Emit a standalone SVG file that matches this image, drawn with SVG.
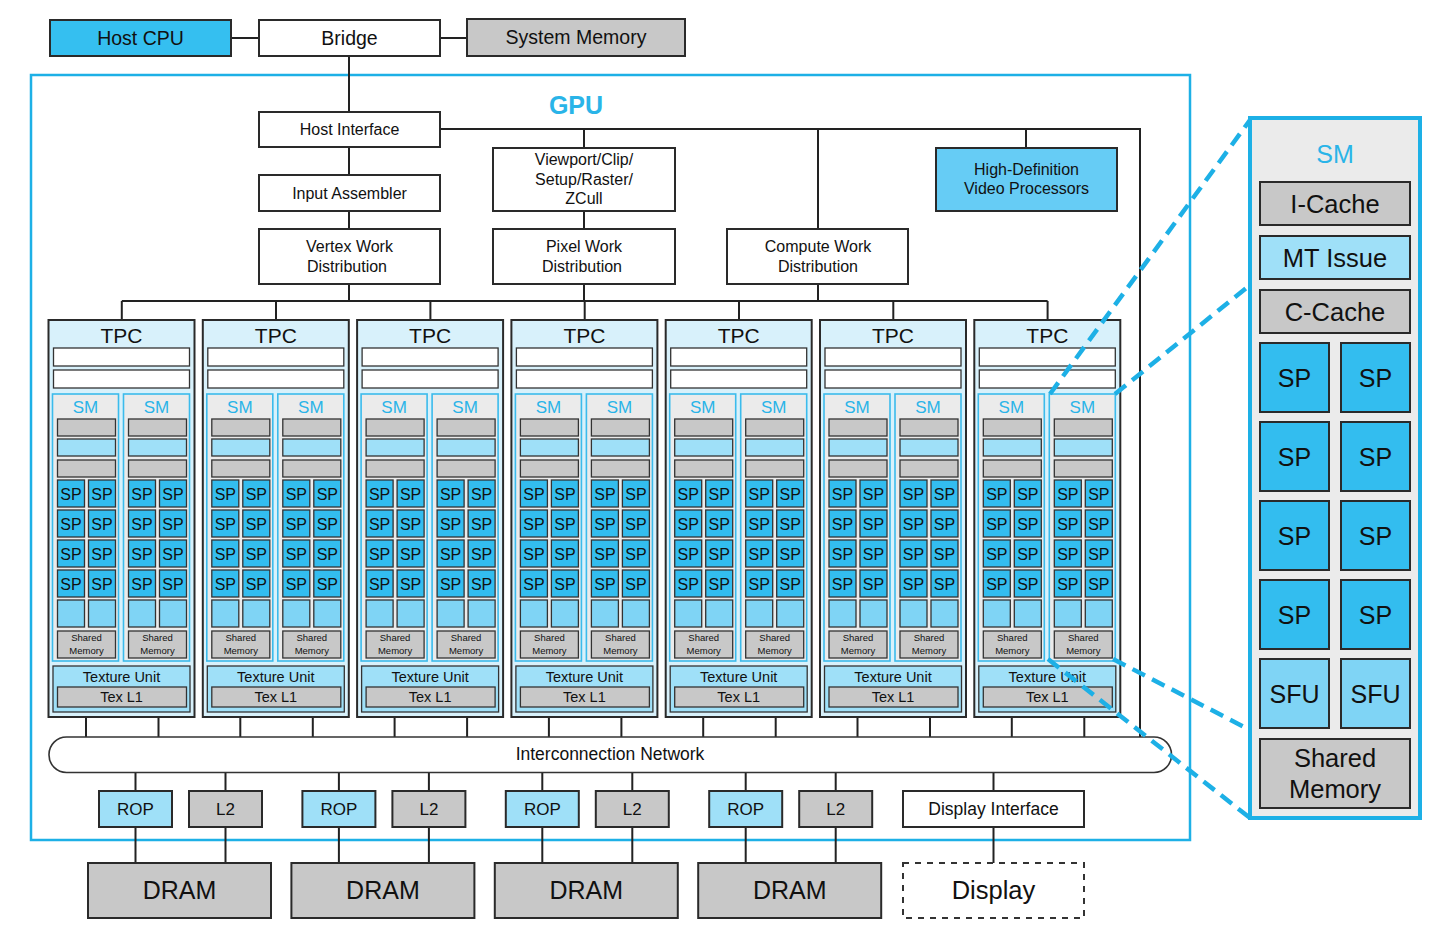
<svg xmlns="http://www.w3.org/2000/svg" xmlns:xlink="http://www.w3.org/1999/xlink" width="1449" height="937" viewBox="0 0 1449 937">
<style>
text{font-family:"Liberation Sans",Arial,sans-serif;fill:#111;text-anchor:middle}
.bx{stroke:#2a2a2a;stroke-width:2}
.in{stroke:#333;stroke-width:1.3}
.w{fill:#fff}
.g{fill:#c8c8c8}
.lb{fill:#9fe0f8}
.bl{fill:#7fd4f5}
.sp{fill:#33bdef}
.cy{fill:#35bff0}
.hd{fill:#66ccf5}
.ln{stroke:#222;stroke-width:2;fill:none}
.dash{stroke:#1db0e6;stroke-width:4.5;stroke-dasharray:14 8;fill:none}
.cytx{fill:#2ab4e8}
</style>
<defs>
<g id="smT">
<rect x="0" y="0" width="66" height="267" fill="#ebebeb" stroke="#3bbbec" stroke-width="1.6"/>
<text x="33" y="19" font-size="17" class="cytx">SM</text>
<rect class="g in" x="5" y="25" width="58" height="17"/>
<rect class="lb in" x="5" y="45" width="58" height="17"/>
<rect class="g in" x="5" y="66" width="58" height="17"/>
<g font-size="16">
<rect class="sp in" x="5" y="86" width="27" height="27"/><text x="18.5" y="105.5">SP</text>
<rect class="sp in" x="36" y="86" width="27" height="27"/><text x="49.5" y="105.5">SP</text>
<rect class="sp in" x="5" y="116" width="27" height="27"/><text x="18.5" y="135.5">SP</text>
<rect class="sp in" x="36" y="116" width="27" height="27"/><text x="49.5" y="135.5">SP</text>
<rect class="sp in" x="5" y="146" width="27" height="27"/><text x="18.5" y="165.5">SP</text>
<rect class="sp in" x="36" y="146" width="27" height="27"/><text x="49.5" y="165.5">SP</text>
<rect class="sp in" x="5" y="176" width="27" height="27"/><text x="18.5" y="195.5">SP</text>
<rect class="sp in" x="36" y="176" width="27" height="27"/><text x="49.5" y="195.5">SP</text>
</g>
<rect class="bl in" x="5" y="206" width="27" height="27"/>
<rect class="bl in" x="36" y="206" width="27" height="27"/>
<rect class="g in" x="5" y="237" width="58" height="27"/>
<text x="34" y="247" font-size="9.5">Shared</text>
<text x="34" y="259.5" font-size="9.5">Memory</text>
</g>
<g id="tpcT">
<rect x="0" y="0" width="146" height="397" fill="#d8f1fb" class="bx"/>
<text x="73" y="22.5" font-size="21">TPC</text>
<rect class="w in" x="5" y="28" width="136" height="18"/>
<rect class="w in" x="5" y="50" width="136" height="18"/>
<use xlink:href="#smT" x="4" y="74"/>
<use xlink:href="#smT" x="75" y="74"/>
<rect class="lb in" x="4.5" y="346" width="137" height="46"/>
<text x="73" y="362" font-size="14.5">Texture Unit</text>
<rect class="g in" x="9" y="367" width="129" height="20"/>
<text x="73" y="382" font-size="14.5">Tex L1</text>
</g>
</defs>

<rect x="31" y="75" width="1159" height="765" fill="none" stroke="#1db0e6" stroke-width="2.5"/>
<text x="576" y="114" font-size="25" font-weight="bold" class="cytx">GPU</text>

<g id="connectors">
<path class="ln" d="M231 38H259M440 38H467M349 56V112M349 147V175M349 211V229M349 284V301"/>
<path class="ln" d="M440 129H1140V737M584 129V148M584 211V229M584 284V301M818 129V229M818 284V301M1026 129V148"/>
<path class="ln" d="M121.8 301H1047.6M121.8 301V320M276 301V320M430.4 301V320M584.7 301V320M739 301V320M893.3 301V320M1047.6 301V320"/>
<path class="ln" d="M86 717V737M158.5 717V737M240.3 717V737M312.8 717V737M394.6 717V737M467.1 717V737M548.9 717V737M621.4 717V737M703.2 717V737M775.7 717V737M857.5 717V737M930 717V737M1011.8 717V737M1084.3 717V737"/>
<path class="ln" d="M135.5 772V791M135.5 827V863M225.5 772V791M225.5 827V863M338.9 772V791M338.9 827V863M428.9 772V791M428.9 827V863M542.3 772V791M542.3 827V863M632.3 772V791M632.3 827V863M745.7 772V791M745.7 827V863M835.7 772V791M835.7 827V863M993.5 772V791M993.5 827V863"/>
</g>

<g id="host-cpu"><rect class="cy bx" x="50" y="20" width="181" height="36"/><text x="140.5" y="45" font-size="19.5">Host CPU</text></g>
<g id="bridge"><rect class="w bx" x="259" y="20" width="181" height="36"/><text x="349.5" y="45" font-size="19.5">Bridge</text></g>
<g id="system-memory"><rect class="g bx" x="467" y="19" width="218" height="37"/><text x="576" y="43.5" font-size="19.5">System Memory</text></g>

<g id="host-interface"><rect class="w bx" x="259" y="112" width="181" height="35"/><text x="349.5" y="135" font-size="16">Host Interface</text></g>
<g id="input-assembler"><rect class="w bx" x="259" y="175" width="181" height="36"/><text x="349.5" y="198.5" font-size="16">Input Assembler</text></g>
<g id="vertex-work"><rect class="w bx" x="259" y="229" width="181" height="55"/><text x="349.5" y="252" font-size="16">Vertex Work</text><text x="347" y="272" font-size="16">Distribution</text></g>
<g id="viewport"><rect class="w bx" x="493" y="148" width="182" height="63"/><text x="584" y="165" font-size="16">Viewport/Clip/</text><text x="584" y="184.5" font-size="16">Setup/Raster/</text><text x="584" y="204" font-size="16">ZCull</text></g>
<g id="pixel-work"><rect class="w bx" x="493" y="229" width="182" height="55"/><text x="584" y="252" font-size="16">Pixel Work</text><text x="582" y="272" font-size="16">Distribution</text></g>
<g id="compute-work"><rect class="w bx" x="727" y="229" width="181" height="55"/><text x="818" y="252" font-size="16">Compute Work</text><text x="818" y="272" font-size="16">Distribution</text></g>
<g id="hd-video"><rect class="hd bx" x="936" y="148" width="181" height="63"/><text x="1026.5" y="175" font-size="16">High-Definition</text><text x="1026.5" y="194" font-size="16">Video Processors</text></g>

<g id="tpc1"><use xlink:href="#tpcT" x="48.5" y="320"/></g>
<g id="tpc2"><use xlink:href="#tpcT" x="202.8" y="320"/></g>
<g id="tpc3"><use xlink:href="#tpcT" x="357.1" y="320"/></g>
<g id="tpc4"><use xlink:href="#tpcT" x="511.4" y="320"/></g>
<g id="tpc5"><use xlink:href="#tpcT" x="665.7" y="320"/></g>
<g id="tpc6"><use xlink:href="#tpcT" x="820" y="320"/></g>
<g id="tpc7"><use xlink:href="#tpcT" x="974.3" y="320"/></g>

<g id="interconnect"><rect x="49" y="737" width="1122.5" height="35.5" rx="17.5" fill="#fff" stroke="#333" stroke-width="1.6"/><text x="610" y="760" font-size="17.5">Interconnection Network</text></g>

<g id="rop1"><rect class="lb bx" x="99" y="791" width="73" height="36"/><text x="135.5" y="815" font-size="17">ROP</text></g>
<g id="l2-1"><rect class="g bx" x="189" y="791" width="73" height="36"/><text x="225.5" y="815" font-size="17">L2</text></g>
<g id="rop2"><rect class="lb bx" x="302.4" y="791" width="73" height="36"/><text x="338.9" y="815" font-size="17">ROP</text></g>
<g id="l2-2"><rect class="g bx" x="392.4" y="791" width="73" height="36"/><text x="428.9" y="815" font-size="17">L2</text></g>
<g id="rop3"><rect class="lb bx" x="505.8" y="791" width="73" height="36"/><text x="542.3" y="815" font-size="17">ROP</text></g>
<g id="l2-3"><rect class="g bx" x="595.8" y="791" width="73" height="36"/><text x="632.3" y="815" font-size="17">L2</text></g>
<g id="rop4"><rect class="lb bx" x="709.2" y="791" width="73" height="36"/><text x="745.7" y="815" font-size="17">ROP</text></g>
<g id="l2-4"><rect class="g bx" x="799.2" y="791" width="73" height="36"/><text x="835.7" y="815" font-size="17">L2</text></g>
<g id="display-interface"><rect class="w bx" x="903" y="791" width="181" height="36"/><text x="993.5" y="815" font-size="17.5">Display Interface</text></g>

<g id="dram1"><rect class="g bx" x="88" y="863" width="183" height="55"/><text x="179.5" y="899" font-size="25">DRAM</text></g>
<g id="dram2"><rect class="g bx" x="291.4" y="863" width="183" height="55"/><text x="382.9" y="899" font-size="25">DRAM</text></g>
<g id="dram3"><rect class="g bx" x="494.8" y="863" width="183" height="55"/><text x="586.3" y="899" font-size="25">DRAM</text></g>
<g id="dram4"><rect class="g bx" x="698.2" y="863" width="183" height="55"/><text x="789.7" y="899" font-size="25">DRAM</text></g>
<g id="display"><rect x="903" y="863" width="181" height="55" fill="#fff" stroke="#333" stroke-width="2" stroke-dasharray="6 6"/><text x="993.5" y="899" font-size="25.5">Display</text></g>

<g id="sm-detail">
<rect x="1250" y="118" width="170" height="700" fill="#ebebeb" stroke="#1db0e6" stroke-width="4"/>
<text x="1335" y="163" font-size="25" class="cytx">SM</text>
<rect class="g bx" x="1260" y="182" width="150" height="43"/><text x="1335" y="212.5" font-size="25.5">I-Cache</text>
<rect class="lb bx" x="1260" y="236" width="150" height="43"/><text x="1335" y="266.5" font-size="25.5">MT Issue</text>
<rect class="g bx" x="1260" y="290" width="150" height="43"/><text x="1335" y="320.5" font-size="25.5">C-Cache</text>
<g font-size="25">
<rect class="sp bx" x="1260" y="343" width="69" height="69"/><text x="1294.5" y="386.5">SP</text>
<rect class="sp bx" x="1341" y="343" width="69" height="69"/><text x="1375.5" y="386.5">SP</text>
<rect class="sp bx" x="1260" y="422" width="69" height="69"/><text x="1294.5" y="465.5">SP</text>
<rect class="sp bx" x="1341" y="422" width="69" height="69"/><text x="1375.5" y="465.5">SP</text>
<rect class="sp bx" x="1260" y="501" width="69" height="69"/><text x="1294.5" y="544.5">SP</text>
<rect class="sp bx" x="1341" y="501" width="69" height="69"/><text x="1375.5" y="544.5">SP</text>
<rect class="sp bx" x="1260" y="580" width="69" height="69"/><text x="1294.5" y="623.5">SP</text>
<rect class="sp bx" x="1341" y="580" width="69" height="69"/><text x="1375.5" y="623.5">SP</text>
<rect class="bl bx" x="1260" y="659" width="69" height="69"/><text x="1294.5" y="702.5">SFU</text>
<rect class="bl bx" x="1341" y="659" width="69" height="69"/><text x="1375.5" y="702.5">SFU</text>
</g>
<rect class="g bx" x="1260" y="739" width="150" height="69"/>
<text x="1335" y="767" font-size="25.5">Shared</text>
<text x="1335" y="798" font-size="25.5">Memory</text>
</g>

<g id="zoom-lines">
<path class="dash" d="M1050 394L1250 120"/>
<path class="dash" d="M1115 394L1250 285"/>
<path class="dash" d="M1048 659L1250 818"/>
<path class="dash" d="M1113 659L1250 730"/>
</g>
</svg>
